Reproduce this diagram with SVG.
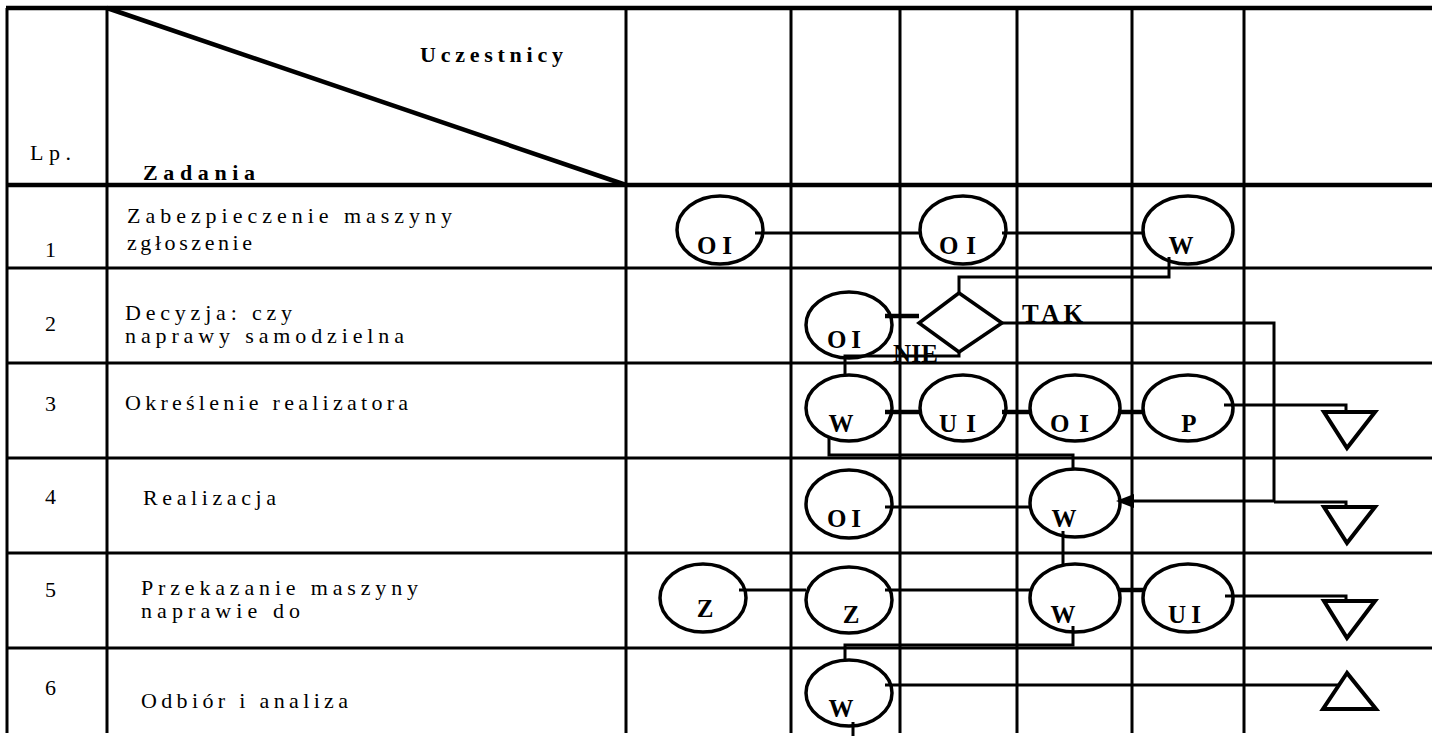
<svg xmlns="http://www.w3.org/2000/svg" width="1432" height="736" viewBox="0 0 1432 736">
<style>
.g{stroke:#000;stroke-width:3;fill:none}
.gh{stroke:#000;stroke-width:4.5;fill:none}
.node ellipse{fill:none;stroke:#000;stroke-width:3.5}
.lbl{font-family:"Liberation Serif","Times New Roman",serif;font-weight:bold;font-size:25px;fill:#000}
.hd{font-family:"Liberation Serif","Times New Roman",serif;font-weight:bold;font-size:22px;fill:#000}
.txt{font-family:"Liberation Serif","Times New Roman",serif;font-size:22px;fill:#000}
.c{stroke:#000;stroke-width:3;fill:none}
.cs{stroke:#000;stroke-width:4.5;fill:none}
.tri{fill:#fff;stroke:#000;stroke-width:4;stroke-linejoin:miter}
</style>
<rect width="1432" height="736" fill="#fff"/>
<g id="grid">
<path class="gh" d="M6 8 H1432"/>
<path class="g" d="M7 8 V733 M107 8 V733 M626 8 V733 M791 8 V733 M900 8 V733 M1017 8 V733 M1132 8 V733 M1244 8 V733"/>
<path class="gh" d="M7 185 H1432"/>
<path class="g" d="M7 268 H1432 M7 363 H1432 M7 458 H1432 M7 553 H1432 M7 648 H1432"/>
<path class="gh" d="M107 8 L626 185"/>
</g>
<g id="header-text">
<text class="hd" x="420" y="62" textLength="143" lengthAdjust="spacing">Uczestnicy</text>
<text class="txt" x="30" y="160" textLength="41" lengthAdjust="spacing">Lp.</text>
<text class="hd" x="143" y="180" textLength="112" lengthAdjust="spacing">Zadania</text>
</g>
<g id="tasks">
<text class="txt" x="45" y="257">1</text>
<text class="txt" x="127" y="223" textLength="325" lengthAdjust="spacing">Zabezpieczenie maszyny</text>
<text class="txt" x="127" y="250" textLength="125" lengthAdjust="spacing">zgłoszenie</text>
<text class="txt" x="45" y="331">2</text>
<text class="txt" x="125" y="320" textLength="167" lengthAdjust="spacing">Decyzja: czy</text>
<text class="txt" x="125" y="343" textLength="279" lengthAdjust="spacing">naprawy samodzielna</text>
<text class="txt" x="45" y="411">3</text>
<text class="txt" x="125" y="410" textLength="283" lengthAdjust="spacing">Określenie realizatora</text>
<text class="txt" x="45" y="504">4</text>
<text class="txt" x="143" y="505" textLength="133" lengthAdjust="spacing">Realizacja</text>
<text class="txt" x="45" y="597">5</text>
<text class="txt" x="141" y="595" textLength="277" lengthAdjust="spacing">Przekazanie maszyny</text>
<text class="txt" x="141" y="618" textLength="159" lengthAdjust="spacing">naprawie do</text>
<text class="txt" x="45" y="695">6</text>
<text class="txt" x="141" y="708" textLength="207" lengthAdjust="spacing">Odbiór i analiza</text>
</g>
<g id="connectors">
<path class="c" d="M755 233 H920"/>
<path class="c" d="M1002 233 H1143"/>
<path class="c" d="M1169 257 V277 H959 V293"/>
<path class="cs" d="M885 316 H919"/>
<path class="c" d="M1002 323 H1274 V501 H1130"/>
<polygon points="1116,501 1134,494 1134,508" fill="#000"/>
<path class="c" d="M959 352 V356 H845 V376"/>
<path class="cs" d="M885 412 H920 M1002 412 H1030 M1118 412 H1143"/>
<path class="c" d="M1224 405 H1346 V412"/>
<path class="c" d="M829 438 V455 H1073 V469"/>
<path class="c" d="M885 507 H1030"/>
<path class="c" d="M1274 502 H1346 V507"/>
<path class="c" d="M1063 531 V565"/>
<path class="c" d="M739 590 H806 M885 590 H1030"/>
<path class="cs" d="M1118 590 H1143"/>
<path class="c" d="M1225 596 H1346 V601"/>
<path class="c" d="M1073 626 V645 H845 V660"/>
<path class="c" d="M885 685 H1340"/>
<path class="c" d="M853 722 V736"/>
</g>
<g id="n1-oi1" class="node"><ellipse cx="720" cy="230" rx="43" ry="34"/><text class="lbl" x="697" y="254" textLength="35" lengthAdjust="spacing">OI</text></g>
<g id="n1-oi2" class="node"><ellipse cx="963" cy="230" rx="43" ry="34"/><text class="lbl" x="939" y="254" textLength="37" lengthAdjust="spacing">OI</text></g>
<g id="n1-w" class="node"><ellipse cx="1188" cy="230" rx="45" ry="34"/><text class="lbl" x="1181" y="254" text-anchor="middle">W</text></g>
<g id="n2-oi" class="node"><ellipse cx="849" cy="325" rx="43" ry="33"/><text class="lbl" x="827" y="348" textLength="34" lengthAdjust="spacing">OI</text></g>
<g id="n2-decision"><polygon points="959,293 1002,323 959,352 919,323" fill="none" stroke="#000" stroke-width="3.5"/></g>
<g id="labels">
<text class="lbl" x="1022" y="322" textLength="61" lengthAdjust="spacing" font-size="21">TAK</text>
<text class="lbl" x="893" y="362" textLength="45" lengthAdjust="spacing" font-size="21">NIE</text>
</g>
<g id="n3-w" class="node"><ellipse cx="849" cy="408" rx="43" ry="33"/><text class="lbl" x="841" y="432" text-anchor="middle">W</text></g>
<g id="n3-ui" class="node"><ellipse cx="963" cy="408" rx="43" ry="33"/><text class="lbl" x="939" y="432" textLength="37" lengthAdjust="spacing">UI</text></g>
<g id="n3-oi" class="node"><ellipse cx="1075" cy="408" rx="45" ry="33"/><text class="lbl" x="1050" y="432" textLength="39" lengthAdjust="spacing">OI</text></g>
<g id="n3-p" class="node"><ellipse cx="1188" cy="408" rx="45" ry="33"/><text class="lbl" x="1189" y="432" text-anchor="middle">P</text></g>
<g id="n3-end" class="node"><polygon class="tri" points="1324,412 1375,412 1347,448"/></g>
<g id="n4-oi" class="node"><ellipse cx="849" cy="504" rx="43" ry="34"/><text class="lbl" x="827" y="527" textLength="34" lengthAdjust="spacing">OI</text></g>
<g id="n4-w" class="node"><ellipse cx="1075" cy="503" rx="45" ry="34"/><text class="lbl" x="1064" y="527" text-anchor="middle">W</text></g>
<g id="n4-end" class="node"><polygon class="tri" points="1324,507 1375,507 1347,543"/></g>
<g id="n5-z1" class="node"><ellipse cx="703" cy="598" rx="43" ry="34"/><text class="lbl" x="705" y="617" text-anchor="middle">Z</text></g>
<g id="n5-z2" class="node"><ellipse cx="849" cy="600" rx="43" ry="33"/><text class="lbl" x="851" y="623" text-anchor="middle">Z</text></g>
<g id="n5-w" class="node"><ellipse cx="1075" cy="598" rx="45" ry="34"/><text class="lbl" x="1063" y="623" text-anchor="middle">W</text></g>
<g id="n5-ui" class="node"><ellipse cx="1188" cy="598" rx="45" ry="34"/><text class="lbl" x="1168" y="623" textLength="33" lengthAdjust="spacing">UI</text></g>
<g id="n5-end" class="node"><polygon class="tri" points="1324,601 1375,601 1347,638"/></g>
<g id="n6-w" class="node"><ellipse cx="849" cy="693" rx="43" ry="33"/><text class="lbl" x="841" y="717" text-anchor="middle">W</text></g>
<g id="n6-end" class="node"><polygon class="tri" points="1347,673 1323,709 1376,709"/></g>
</svg>
